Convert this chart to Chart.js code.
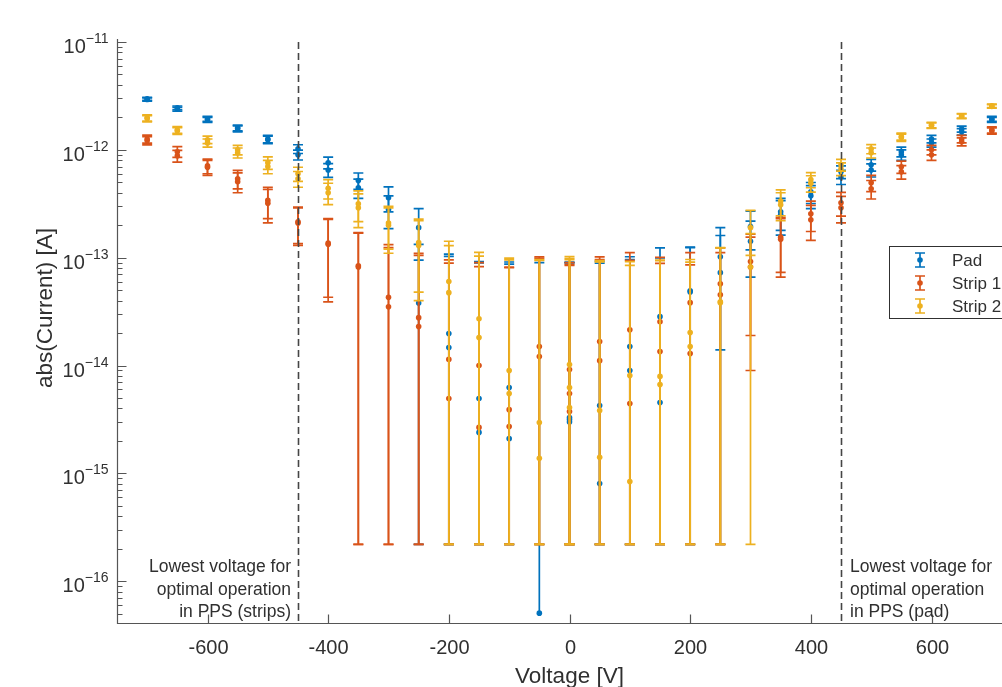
<!DOCTYPE html>
<html>
<head>
<meta charset="utf-8">
<script src="https://cdn.jsdelivr.net/npm/chart.js@4.4.1/dist/chart.umd.min.js"></script>
<style>
  html, body { margin: 0; padding: 0; background: #fff; overflow: hidden; }
  #wrap { width: 1002px; height: 687px; overflow: hidden; }
</style>
</head>
<body>
<div id="wrap"><canvas id="ivChart" width="1046" height="687"></canvas></div>
<script>
// bias voltage of each measurement point [V]
const voltages = [-700, -650, -600, -550, -500, -450, -400, -350, -300, -250, -200, -150, -100, -50, 0,
                  50, 100, 150, 200, 250, 300, 350, 400, 450, 500, 550, 600, 650, 700];

// abs(current) [A], two sweeps per sensor (a third reading only at 0 V)
const padA = [2.97e-12, 2.45e-12, 1.94e-12, 1.60e-12, 1.26e-12, 1.02e-12, 7.6e-13, 5.2e-13, 3.6e-13, 1.9e-13, 1.98e-14, 4.94e-15, 6.25e-15, 5.06e-17, 3.3e-15,
              4.26e-15, 1.5e-14, 2.84e-14, 4.94e-14, 1.02e-13, 1.94e-13, 2.67e-13, 4.08e-13, 6.25e-13, 7.26e-13, 9.6e-13, 1.26e-12, 1.56e-12, 1.94e-12];
const padB = [2.93e-12, 2.38e-12, 1.90e-12, 1.57e-12, 1.24e-12, 9.0e-13, 6.5e-13, 4.45e-13, 2.8e-13, 3.8e-14, 1.47e-14, 2.4e-15, 2.1e-15, null, 3.0e-15,
              8.07e-16, 9.0e-15, 4.54e-15, 4.8e-14, 7.27e-14, 1.42e-13, 2.5e-13, 3.75e-13, 5.62e-13, 6.5e-13, 8.99e-13, 1.16e-12, 1.47e-12, 1.90e-12];
const padC = [null, null, null, null, null, null, null, null, null, null, null, null, null, null, 3.16e-15,
              null, null, null, null, null, null, null, null, null, null, null, null, null, null];
const padErr = [1.0e-13, 1.0e-13, 1.0e-13, 1.0e-13, 1.0e-13, 9.5e-14, 9.5e-14, 9.0e-14, 9.4e-14, 9.5e-14, 8.8e-14, 8.7e-14, 8.5e-14, 9.0e-14, 8.7e-14,
                8.8e-14, 8.7e-14, 9.5e-14, 7.6e-14, 8.8e-14, 7.6e-14, 8.8e-14, 9.0e-14, 8.5e-14, 9.0e-14, 1.0e-13, 1.0e-13, 1.0e-13, 1.0e-13];

const strip1A = [1.26e-12, 9.6e-13, 7.1e-13, 5.4e-13, 3.4e-13, 2.15e-13, 1.37e-13, 8.4e-14, 4.3e-14, 2.78e-14, 1.14e-14, 1.0e-14, 3.9e-15, 1.5e-14, 9.2e-15,
                 1.67e-14, 2.15e-14, 2.55e-14, 3.83e-14, 5.74e-14, 9.2e-14, 1.55e-13, 2.55e-13, 3.23e-13, 4.95e-13, 6.96e-13, 1.0e-12, 1.26e-12, 1.53e-12];
const strip1B = [1.22e-12, 8.8e-13, 6.9e-13, 5.06e-13, 3.2e-13, 2.1e-13, 1.33e-13, 8.2e-14, 3.5e-14, 2.3e-14, 4.94e-15, 2.67e-15, 2.72e-15, 1.21e-14, 5.5e-15,
                 1.11e-14, 4.45e-15, 1.35e-14, 1.29e-14, 4.54e-14, 8.2e-14, 1.48e-13, 2.25e-13, 2.9e-13, 4.35e-13, 6.25e-13, 9.0e-13, 1.19e-12, 1.50e-12];
const strip1C = [null, null, null, null, null, null, null, null, null, null, null, null, null, null, 3.75e-15,
                 null, null, null, null, null, null, null, null, null, null, null, null, null, null];
const strip1Err = [1.07e-13, 1.1e-13, 1.1e-13, 1.06e-13, 1.1e-13, 8.0e-14, 9.4e-14, 8.7e-14, 8.9e-14, 8.2e-14, 8.4e-14, 8.0e-14, 7.8e-14, 8.7e-14, 8.1e-14,
                   8.5e-14, 9.0e-14, 7.5e-14, 7.3e-14, 6.6e-14, 7.3e-14, 8.2e-14, 8.0e-14, 8.0e-14, 8.5e-14, 9.0e-14, 1.0e-13, 1.0e-13, 1.0e-13];

const strip2A = [1.98e-12, 1.53e-12, 1.24e-12, 1.0e-12, 7.6e-13, 6.0e-13, 4.4e-13, 3.16e-13, 2.1e-13, 1.38e-13, 6.0e-14, 2.72e-14, 9.0e-15, 2.96e-15, 1.02e-14,
                 3.83e-15, 8.07e-15, 7.93e-15, 2.02e-14, 3.9e-14, 1.9e-13, 3.35e-13, 5.3e-13, 7.26e-13, 1.02e-12, 1.33e-12, 1.70e-12, 2.07e-12, 2.56e-12];
const strip2B = [1.95e-12, 1.50e-12, 1.16e-12, 9.4e-13, 7.0e-13, 5.4e-13, 4.0e-13, 2.9e-13, 2.0e-13, 1.3e-13, 4.74e-14, 1.82e-14, 5.5e-15, 1.38e-15, 6.25e-15,
                 1.41e-15, 8.4e-16, 6.67e-15, 1.5e-14, 3.83e-14, 8.2e-14, 3.1e-13, 4.9e-13, 6.67e-13, 9.4e-13, 1.30e-12, 1.68e-12, 2.05e-12, 2.53e-12];
const strip2C = [null, null, null, null, null, null, null, null, null, null, null, null, null, null, 4.08e-15,
                 null, null, null, null, null, null, null, null, null, null, null, null, null, null];
const strip2Err = [1.3e-13, 1.1e-13, 1.0e-13, 1.0e-13, 1.0e-13, 9.0e-14, 9.0e-14, 1.0e-13, 9.0e-14, 9.0e-14, 8.2e-14, 8.5e-14, 9.0e-14, 9.3e-14, 9.2e-14,
                   9.0e-14, 8.4e-14, 8.7e-14, 7.6e-14, 8.5e-14, 8.5e-14, 9.0e-14, 8.5e-14, 9.0e-14, 1.0e-13, 1.0e-13, 1.0e-13, 1.0e-13, 1.0e-13];

const xTicks = [-600, -400, -200, 0, 200, 400, 600];
const yDecades = [-16, -15, -14, -13, -12, -11];
const thresholdVolts = [-450, 450];
const noteLeft = ["Lowest voltage for", "optimal operation", "in PPS (strips)"];
const noteRight = ["Lowest voltage for", "optimal operation", "in PPS (pad)"];

const errFloor = 2.2e-16; // lower whisker end when value - err goes negative
const FONT = '"Liberation Sans", Arial, Helvetica, sans-serif';
const INK = '#303030';

function points(sweeps, errs) {
  const out = [];
  sweeps.forEach(arr => arr.forEach((v, i) => {
    if (v !== null) out.push({ x: voltages[i], y: v, err: errs[i] });
  }));
  return out;
}

const series = [
  { label: 'Pad', color: '#0072BD', data: points([padA, padB, padC], padErr) },
  { label: 'Strip 1', color: '#D95319', data: points([strip1A, strip1B, strip1C], strip1Err) },
  { label: 'Strip 2', color: '#EDB120', data: points([strip2A, strip2B, strip2C], strip2Err) }
];

// whiskers are drawn just before each dataset's own markers
const errorBars = {
  id: 'errorBars',
  beforeDatasetDraw(chart, args) {
    const ds = chart.data.datasets[args.index];
    const xs = chart.scales.x, ys = chart.scales.y, ctx = chart.ctx;
    ctx.save();
    ctx.strokeStyle = ds.backgroundColor;
    ctx.lineWidth = 1.7;
    ds.data.forEach(p => {
      const hi = p.y + p.err;
      const lo = p.y - p.err > 0 ? p.y - p.err : errFloor;
      const px = xs.getPixelForValue(p.x);
      const yHi = ys.getPixelForValue(hi);
      const yLo = ys.getPixelForValue(lo);
      const yEnd = ys.getPixelForValue(Math.min(lo, p.y));
      ctx.beginPath();
      ctx.moveTo(px, yHi); ctx.lineTo(px, yEnd);
      ctx.moveTo(px - 5, yHi); ctx.lineTo(px + 5, yHi);
      ctx.moveTo(px - 5, yLo); ctx.lineTo(px + 5, yLo);
      ctx.stroke();
    });
    ctx.restore();
  }
};

// MATLAB-like axes, threshold lines, notes and legend
const decor = {
  id: 'decor',
  afterDraw(chart) {
    const { ctx, chartArea: a } = chart;
    const xs = chart.scales.x, ys = chart.scales.y;
    ctx.save();

    // threshold lines
    ctx.strokeStyle = '#454545';
    ctx.lineWidth = 1.6;
    ctx.setLineDash([7, 4]);
    thresholdVolts.forEach(v => {
      const px = Math.round(xs.getPixelForValue(v)) + 0.5;
      ctx.beginPath(); ctx.moveTo(px, a.top); ctx.lineTo(px, a.bottom); ctx.stroke();
    });
    ctx.setLineDash([]);

    // axis lines
    const left = Math.round(a.left) + 0.5, bottom = Math.round(a.bottom) + 0.5;
    ctx.strokeStyle = '#555';
    ctx.lineWidth = 1.2;
    ctx.beginPath();
    ctx.moveTo(left, a.top - 3); ctx.lineTo(left, bottom); ctx.lineTo(a.right, bottom);
    ctx.stroke();

    // x ticks and labels
    ctx.fillStyle = INK;
    ctx.font = '20px ' + FONT;
    ctx.textAlign = 'center';
    ctx.textBaseline = 'alphabetic';
    ctx.beginPath();
    xTicks.forEach(v => {
      const px = Math.round(xs.getPixelForValue(v)) + 0.5;
      ctx.moveTo(px, bottom); ctx.lineTo(px, bottom - 9);
      ctx.fillText(String(v), px, bottom + 30);
    });
    ctx.stroke();

    // y ticks (inward, with minor decades)
    ctx.beginPath();
    for (let e = -17; e <= -11; e++) {
      for (let m = 1; m <= 9; m++) {
        const v = m * Math.pow(10, e);
        if (v < ys.min || v > ys.max * 1.0001) continue;
        const py = Math.round(ys.getPixelForValue(v)) + 0.5;
        ctx.moveTo(left, py); ctx.lineTo(left + (m === 1 ? 9 : 5), py);
      }
    }
    ctx.stroke();

    // y tick labels 10^n
    yDecades.forEach(e => {
      const py = ys.getPixelForValue(Math.pow(10, e));
      const expTxt = '\u2212' + String(-e);
      ctx.font = '14px ' + FONT;
      const ew = ctx.measureText(expTxt).width;
      ctx.textAlign = 'left';
      ctx.fillText(expTxt, left - 9 - ew, py + 1);
      ctx.font = '20px ' + FONT;
      ctx.textAlign = 'right';
      ctx.fillText('10', left - 9 - ew, py + 11);
    });

    // axis titles
    ctx.font = '22.5px ' + FONT;
    ctx.textAlign = 'center';
    ctx.fillText('Voltage [V]', (a.left + a.right) / 2, 683);
    ctx.save();
    ctx.translate(46, 308);
    ctx.rotate(-Math.PI / 2);
    ctx.textBaseline = 'middle';
    ctx.fillText('abs(Current) [A]', 0, 0);
    ctx.restore();

    // notes next to the threshold lines
    ctx.font = '17.5px ' + FONT;
    ctx.textBaseline = 'alphabetic';
    const xl = xs.getPixelForValue(thresholdVolts[0]) - 7;
    const xr = xs.getPixelForValue(thresholdVolts[1]) + 9;
    ctx.textAlign = 'right';
    noteLeft.forEach((t, i) => ctx.fillText(t, xl, a.bottom - 51 + i * 22.5));
    ctx.textAlign = 'left';
    noteRight.forEach((t, i) => ctx.fillText(t, xr, a.bottom - 51 + i * 22.5));

    // legend box
    const bx = 889.5, by = 246.5;
    ctx.fillStyle = '#fff';
    ctx.fillRect(bx, by, 170, 72);
    ctx.strokeStyle = INK;
    ctx.lineWidth = 1;
    ctx.strokeRect(bx, by, 170, 72);
    ctx.font = '17px ' + FONT;
    ctx.textBaseline = 'middle';
    series.forEach((s, i) => {
      const cy = 260 + i * 23, cx = 920;
      ctx.strokeStyle = s.color;
      ctx.lineWidth = 1.7;
      ctx.beginPath();
      ctx.moveTo(cx, cy - 7); ctx.lineTo(cx, cy + 7);
      ctx.moveTo(cx - 5, cy - 7); ctx.lineTo(cx + 5, cy - 7);
      ctx.moveTo(cx - 5, cy + 7); ctx.lineTo(cx + 5, cy + 7);
      ctx.stroke();
      ctx.fillStyle = s.color;
      ctx.beginPath(); ctx.arc(cx, cy, 2.8, 0, Math.PI * 2); ctx.fill();
      ctx.fillStyle = INK;
      ctx.fillText(s.label, 952, cy + 1);
    });

    ctx.restore();
  }
};

new Chart(document.getElementById('ivChart'), {
  type: 'scatter',
  data: {
    datasets: series.map((s, i) => ({
      label: s.label,
      data: s.data,
      backgroundColor: s.color,
      borderColor: s.color,
      pointRadius: 2.8,
      pointBorderWidth: 0,
      pointHoverRadius: 2.8,
      order: series.length - i
    }))
  },
  options: {
    responsive: false,
    animation: false,
    events: [],
    layout: { padding: { left: 117, right: 24, top: 42, bottom: 64 } },
    plugins: { legend: { display: false }, tooltip: { enabled: false } },
    scales: {
      x: { type: 'linear', min: -750, max: 750, display: false },
      y: { type: 'logarithmic', min: 4.1e-17, max: 1e-11, display: false }
    }
  },
  plugins: [errorBars, decor]
});
</script>
</body>
</html>
